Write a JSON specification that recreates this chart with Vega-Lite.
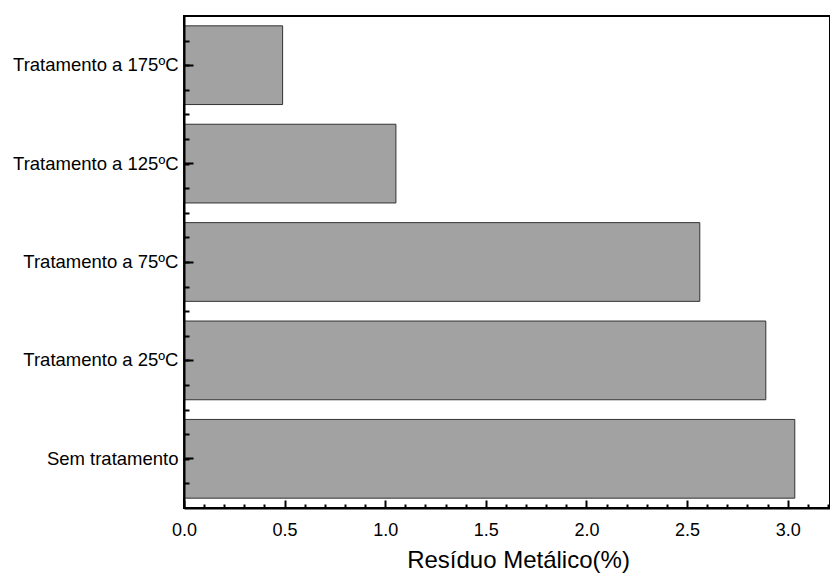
{
  "$schema": "https://vega.github.io/schema/vega-lite/v6.json",
  "width": 646,
  "height": 492,
  "autosize": {"type": "none"},
  "padding": {"left": 184, "top": 16, "right": 0, "bottom": 65},
  "background": "white",
  "config": {
    "view": {"stroke": "black", "strokeWidth": 2},
    "font": "Liberation Sans",
    "axis": {
      "domainColor": "black",
      "domainWidth": 2,
      "tickColor": "black",
      "tickWidth": 2,
      "labelColor": "black",
      "titleColor": "black",
      "grid": false,
      "zindex": 2
    }
  },
  "data": {
    "values": [
      {"grupo": "Tratamento a 175ºC", "residuo": 0.49},
      {"grupo": "Tratamento a 125ºC", "residuo": 1.053},
      {"grupo": "Tratamento a 75ºC", "residuo": 2.563},
      {"grupo": "Tratamento a 25ºC", "residuo": 2.891},
      {"grupo": "Sem tratamento", "residuo": 3.035}
    ]
  },
  "layer": [
    {
      "mark": {"type": "bar", "fill": "#a2a2a2", "stroke": "#333333", "strokeWidth": 1},
      "encoding": {
        "y": {
          "field": "grupo",
          "type": "nominal",
          "sort": null,
          "scale": {"paddingInner": 0.2, "paddingOuter": 0.1},
          "axis": {
            "title": null,
            "labelFontSize": 18.5,
            "labelPadding": 15,
            "tickSize": -9,
            "labelLimit": 300,
            "zindex": 2
          }
        },
        "x": {
          "field": "residuo",
          "type": "quantitative",
          "scale": {"domain": [0, 3.21], "nice": false, "zero": true},
          "axis": {
            "values": [0, 0.5, 1, 1.5, 2, 2.5, 3],
            "format": ".1f",
            "tickSize": -8,
            "labelFontSize": 18,
            "labelPadding": 21,
            "labelFlush": false,
            "title": "Resíduo Metálico(%)",
            "titleFontSize": 24,
            "titleFontWeight": "normal",
            "titleX": 334,
            "titleAlign": "center",
            "titlePadding": 9,
            "zindex": 2
          }
        }
      }
    },
    {
      "mark": {"type": "point", "opacity": 0},
      "encoding": {
        "y": {
          "field": "residuo",
          "type": "quantitative",
          "scale": {"domain": [0, 5], "nice": false, "zero": true},
          "axis": {
            "orient": "left",
            "title": null,
            "labels": false,
            "domain": false,
            "tickSize": -5,
            "zindex": 2,
            "values": [0.25, 0.5, 0.75, 1, 1.25, 1.5, 1.75, 2, 2.25, 2.5, 2.75, 3, 3.25, 3.5, 3.75, 4, 4.25, 4.5, 4.75]
          }
        },
        "x": {
          "field": "residuo",
          "type": "quantitative",
          "axis": {
            "orient": "bottom",
            "title": null,
            "labels": false,
            "domain": false,
            "tickSize": -4,
            "zindex": 2,
            "values": [0.1, 0.2, 0.3, 0.4, 0.6, 0.7, 0.8, 0.9, 1.1, 1.2, 1.3, 1.4, 1.6, 1.7, 1.8, 1.9, 2.1, 2.2, 2.3, 2.4, 2.6, 2.7, 2.8, 2.9, 3.1, 3.2]
          }
        }
      }
    }
  ],
  "resolve": {"scale": {"y": "independent"}, "axis": {"x": "independent", "y": "independent"}}
}
